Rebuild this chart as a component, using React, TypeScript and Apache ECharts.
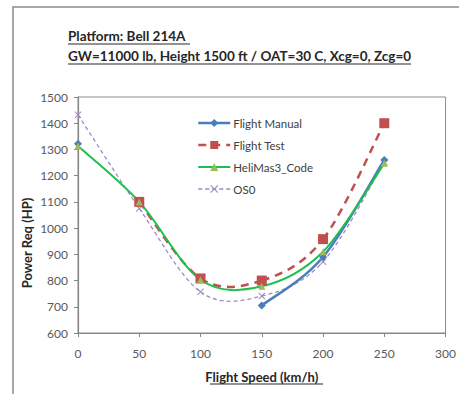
import React, { useEffect, useRef } from "react";
import * as echarts from "echarts";

const speeds = [0, 50, 100, 150, 200, 250];
const flightManual: (number | null)[] = [1322, null, null, 705, 890, 1260];
const flightTest: (number | null)[] = [null, 1100, 808, 800, 958, 1400];
const heliMas3: (number | null)[] = [1313, 1100, 803, 778, 910, 1247];
const oso: (number | null)[] = [1432, 1075, 757, 741, 872, 1252];

const titleLine1 = "Platform: Bell 214A";
const titleLine2 = "GW=11000 lb, Height 1500 ft / OAT=30 C, Xcg=0, Zcg=0";
const xName = "Flight Speed (km/h)";
const yName = "Power Req (HP)";

const FONT = "Lato, 'Open Sans', sans-serif";
const crossPath =
  "path://M0,1 L1,0 L5,4 L9,0 L10,1 L6,5 L10,9 L9,10 L5,6 L1,10 L0,9 L4,5Z";

const pairs = (ys: (number | null)[]) => speeds.map((x, i) => [x, ys[i]]);

// Excel-like smoothed segments (Catmull-Rom style bezier, tension 1/6)
function curveSeries(id: string, ys: (number | null)[], lineStyle: any, z: number) {
  const segs: number[][] = [];
  for (let i = 0; i < ys.length - 1; i++) {
    if (ys[i] != null && ys[i + 1] != null) segs.push([speeds[i], ys[i] as number, i]);
  }
  return {
    id,
    name: id,
    type: "custom",
    z,
    silent: true,
    encode: { x: 0, y: 1 },
    data: segs,
    renderItem: (params: any, api: any) => {
      const i = api.value(2);
      const pt = (k: number) => api.coord([speeds[k], ys[k]]);
      const p1 = pt(i);
      const p2 = pt(i + 1);
      const p0 = i - 1 >= 0 && ys[i - 1] != null ? pt(i - 1) : p1;
      const p3 = i + 2 < ys.length && ys[i + 2] != null ? pt(i + 2) : p2;
      const t = 1 / 6;
      return {
        type: "bezierCurve",
        shape: {
          x1: p1[0],
          y1: p1[1],
          cpx1: p1[0] + (p2[0] - p0[0]) * t,
          cpy1: p1[1] + (p2[1] - p0[1]) * t,
          cpx2: p2[0] - (p3[0] - p1[0]) * t,
          cpy2: p2[1] - (p3[1] - p1[1]) * t,
          x2: p2[0],
          y2: p2[1],
        },
        style: {
          fill: "none",
          stroke: lineStyle.color,
          lineWidth: lineStyle.width,
          lineDash: lineStyle.dash || null,
        },
      };
    },
  };
}

const styles = {
  manual: { color: "#4a7ebb", width: 2.5 },
  test: { color: "#c0504d", width: 2.5, dash: [8, 6] },
  heli: { color: "#1fbf4f", width: 2 },
  oso: { color: "#9d8bc4", width: 1.3, dash: [4, 3] },
};

function markerSeries(name: string, ys: (number | null)[], symbol: string, size: number, color: string, st: any, z: number) {
  return {
    name,
    type: "line",
    data: pairs(ys),
    symbol,
    symbolSize: size,
    showAllSymbol: true,
    connectNulls: false,
    itemStyle: { color },
    lineStyle: { color: st.color, width: st.width, type: st.dash || "solid", opacity: 0 },
    z,
  };
}

export default function App() {
  const ref = useRef<HTMLDivElement>(null);
  useEffect(() => {
    document.body.style.margin = "0";
    const chart = echarts.init(ref.current!, undefined, { renderer: "svg" });
    const legendItem = (name: string, st: any) => ({
      name,
      lineStyle: { color: st.color, width: st.width, type: st.dash || "solid", opacity: 1 },
    });
    chart.setOption({
      animation: false,
      backgroundColor: "#ffffff",
      textStyle: { fontFamily: FONT },
      grid: {
        left: 78,
        top: 97,
        right: 11,
        bottom: 61,
        show: true,
        borderColor: "#8c8c8c",
        borderWidth: 1,
      },
      legend: {
        orient: "vertical",
        left: 197,
        top: 117,
        padding: 0,
        itemWidth: 32,
        itemHeight: 10,
        itemGap: 10,
        textStyle: { fontFamily: FONT, fontSize: 11.5, color: "#404040", padding: [0, 0, 0, -2] },
        lineStyle: { opacity: 1 },
        data: [
          legendItem("Flight Manual", styles.manual),
          legendItem("Flight Test", styles.test),
          legendItem("HeliMas3_Code", styles.heli),
          legendItem("OS0", styles.oso),
        ],
      },
      xAxis: {
        type: "value",
        min: 0,
        max: 300,
        interval: 50,
        name: xName,
        nameLocation: "middle",
        nameGap: 37,
        nameTextStyle: { fontFamily: FONT, fontSize: 13, fontWeight: "bold", color: "#262626" },
        axisLine: { show: true, lineStyle: { color: "#868686", width: 1.2 } },
        axisTick: { show: true, length: 4, lineStyle: { color: "#868686" } },
        axisLabel: { fontFamily: FONT, fontSize: 12, color: "#595959", margin: 14 },
        splitLine: { show: false },
      },
      yAxis: {
        type: "value",
        min: 600,
        max: 1500,
        interval: 100,
        axisLine: { show: true, lineStyle: { color: "#868686", width: 1.2 } },
        axisTick: { show: true, length: 4, lineStyle: { color: "#868686" } },
        axisLabel: {
          fontFamily: FONT,
          fontSize: 12,
          color: "#595959",
          margin: 10,
          formatter: (v: number) => String(v),
        },
        splitLine: { show: false },
      },
      series: [
        curveSeries("OS0 curve", oso, styles.oso, 2),
        curveSeries("Flight Test curve", flightTest, styles.test, 3),
        curveSeries("Flight Manual curve", flightManual, styles.manual, 4),
        curveSeries("HeliMas3 curve", heliMas3, styles.heli, 5),
        markerSeries("OS0", oso, crossPath, 7, "#9d8bc4", styles.oso, 6),
        markerSeries("Flight Test", flightTest, "rect", 10, "#c0504d", styles.test, 7),
        markerSeries("Flight Manual", flightManual, "diamond", 8, "#4a7ebb", styles.manual, 8),
        markerSeries("HeliMas3_Code", heliMas3, "triangle", 7, "#9bbb59", styles.heli, 9),
      ],
      graphic: [
        {
          type: "rect",
          shape: { x: 13, y: 7, width: 470, height: 420 },
          style: { fill: "none", stroke: "#8a8a8a", lineWidth: 1.5 },
          silent: true,
        },
        {
          type: "text",
          x: 68,
          y: 29,
          style: { text: titleLine1, font: `bold 13.5px ${FONT}`, fill: "#262626" },
        },
        {
          type: "line",
          shape: { x1: 68, y1: 44, x2: 190, y2: 44 },
          style: { stroke: "#262626", lineWidth: 1 },
        },
        {
          type: "text",
          x: 68,
          y: 49,
          style: { text: titleLine2, font: `bold 13.5px ${FONT}`, fill: "#262626" },
        },
        {
          type: "line",
          shape: { x1: 68, y1: 64, x2: 411, y2: 64 },
          style: { stroke: "#262626", lineWidth: 1 },
        },
        {
          type: "line",
          shape: { x1: 210, y1: 384, x2: 323, y2: 384 },
          style: { stroke: "#262626", lineWidth: 1 },
        },
        {
          type: "text",
          x: 27,
          y: 243,
          rotation: Math.PI / 2,
          style: {
            text: yName,
            font: `bold 13px ${FONT}`,
            fill: "#262626",
            align: "center",
            verticalAlign: "middle",
          },
        },
      ],
    });
    return () => chart.dispose();
  }, []);
  return <div ref={ref} style={{ width: 459, height: 394 }} />;
}
